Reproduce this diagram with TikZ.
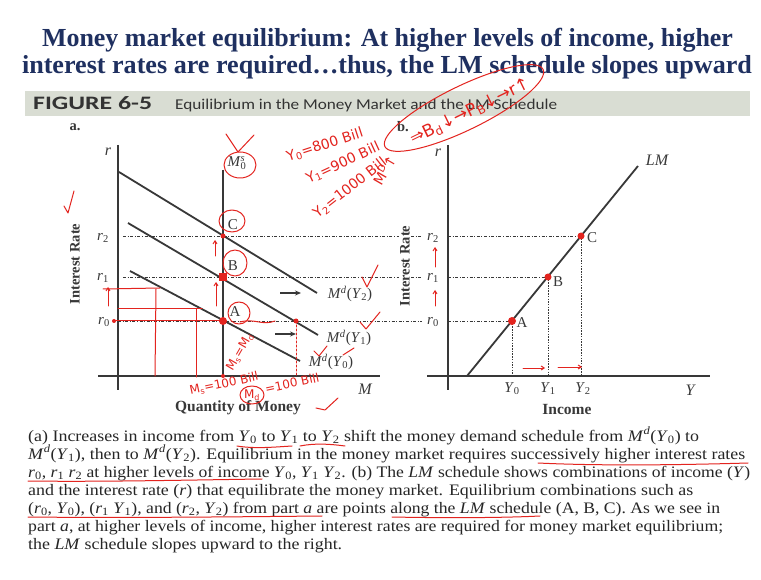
\documentclass[tikz,border=0pt]{standalone}
\usepackage{fontspec}
\setmainfont{Liberation Serif}
\newfontfamily\carl{Carlito}
\newfontfamily\djs{DejaVu Sans}
\usetikzlibrary{arrows.meta}
\definecolor{navy}{HTML}{1F3060}
\definecolor{barc}{HTML}{D9DDD3}
\definecolor{ink}{HTML}{383838}
\definecolor{pen}{HTML}{E3241F}
\newcommand\fitto[2]{\setbox0\hbox{#2}\pgfmathsetmacro\fitfac{#1/\the\wd0}\scalebox{\fitfac}[1]{\box0}}
\newcommand\Md[1]{\textit{M}\textsuperscript{\textit{d}}(\textit{Y}\textsubscript{#1})}
\newcommand\Ys[1]{\textit{Y}\textsubscript{#1}}
\newcommand\rs[1]{\textit{r}\textsubscript{#1}}
\begin{document}
\begin{tikzpicture}[x=1pt,y=-1pt,
 ax/.style={draw=ink, line width=1.3pt},
 curve/.style={draw=ink, line width=1.8pt},
 lvl/.style={draw=ink, line width=0.8pt, dash pattern=on 3pt off 1.6pt on 1pt off 1.6pt},
 drop/.style={draw=ink, line width=0.8pt, dash pattern=on 1.5pt off 1.2pt},
 lab/.style={inner sep=0pt, font=\fontsize{15}{16}\selectfont, text=ink},
 axt/.style={inner sep=0pt, font=\bfseries\fontsize{14.5}{16}\selectfont, text=ink},
 ttl/.style={inner sep=0pt, anchor=base, font=\bfseries\fontsize{26}{28}\selectfont, text=navy},
 captxt/.style={inner sep=0pt, anchor=base west, font=\fontsize{16}{18}\selectfont, text=black!85},
 hand/.style={draw=pen, line width=1pt, line cap=round, line join=round},
 hw/.style={inner sep=0pt, text=pen, font=\djs\fontsize{14}{14}\selectfont},
 rdot/.style={fill=pen},
 blk/.style={-{Stealth[length=6pt,width=5pt]}, draw=ink, line width=1.2pt},
 rarr/.style={hand, -{Straight Barb[length=3pt,width=4pt]}},
]
\useasboundingbox (0,0) rectangle (761,580);
\fill[white] (0,0) rectangle (761,580);

% ---------- title ----------
\node[ttl] (t1) at (387.5,47) {\fitto{691}{Money market equilibrium: At higher levels of income, higher}};
\node[ttl] (t2) at (387,74) {\fitto{730}{interest rates are required…thus, the LM schedule slopes upward}};

% ---------- figure bar ----------
\node[fill=barc, minimum width=725, minimum height=25, anchor=north west, inner sep=0pt] (bar) at (25,91) {};
\node[inner sep=0pt, anchor=base west, font=\carl\bfseries\fontsize{19}{20}\selectfont, text=black!80] (fig) at (33,110) {\fitto{119}{FIGURE 6-5}};
\node[inner sep=0pt, anchor=base west, font=\carl\fontsize{15}{16}\selectfont, text=black!80] (figt) at (175,110) {\fitto{382}{Equilibrium in the Money Market and the LM Schedule}};

% ---------- panel a ----------
\node[axt] (pa) at (75,127) {a.};
\node[axt, rotate=90] (ira) at (75,264) {Interest Rate};
\coordinate (aTop) at (118,145); \coordinate (aBot) at (118,390);
\coordinate (aL) at (98,376); \coordinate (aR) at (380,376);
\draw[ax] (aTop) -- (aBot);
\draw[ax] (aL) -- (aR);
\node[lab, font=\itshape\fontsize{16}{16}\selectfont] (ra) at (108,152) {r};
\node[lab, font=\itshape\fontsize{16}{16}\selectfont] (Ma) at (365,389) {M};
\node[axt, font=\bfseries\fontsize{15.5}{16}\selectfont] (qm) at (238,408) {Quantity of Money};

\coordinate (C) at (223,236); \coordinate (B) at (223,277); \coordinate (A) at (223,321);
\coordinate (msT) at (223,170); \coordinate (msB) at (223,376);
\draw[ax] (msT) -- (msB);
\node[lab] (ms) at (237,163) {\textit{M}\rlap{\textsuperscript{\textit{s}}}\textsubscript{0}};

\draw[lvl] (123,236) -- (422,236);
\draw[lvl] (123,277) -- (422,277);
\draw[lvl] (118,321) -- (422,321);
\node[lab] (r2a) at (103,238) {\rs{2}};
\node[lab] (r1a) at (103,278) {\rs{1}};
\node[lab] (r0a) at (104,322) {\rs{0}};

\coordinate (d2s) at (119,172); \coordinate (d2e) at (317,293);
\coordinate (d1s) at (128,223); \coordinate (d1e) at (318,335);
\coordinate (d0s) at (130,271); \coordinate (d0e) at (300,361);
\draw[curve] (d2s) -- (d2e);
\draw[curve] (d1s) -- (d1e);
\draw[curve] (d0s) -- (d0e);
\node[lab] (l2) at (350,294) {\Md{2}};
\node[lab] (l1) at (349,338) {\Md{1}};
\node[lab] (l0) at (331,362) {\Md{0}};
\coordinate (a2s) at (280,293); \coordinate (a2e) at (301,293);
\coordinate (a1s) at (275,334); \coordinate (a1e) at (296,334);
\draw[blk] (a2s) -- (a2e);
\draw[blk] (a1s) -- (a1e);
\node[lab] (Cl) at (233,225) {C};
\node[lab] (Bl) at (233,266) {B};
\node[lab] (Al) at (235,312) {A};

% ---------- panel b ----------
\node[axt] (pb) at (403,127) {b.};
\node[axt, rotate=90, fill=white, inner sep=1pt] (irb) at (405,266) {Interest Rate};
\coordinate (bTop) at (448,145); \coordinate (bBot) at (448,390);
\coordinate (bL) at (427,376); \coordinate (bR) at (710,376);
\draw[ax] (bTop) -- (bBot);
\draw[ax] (bL) -- (bR);
\node[lab, font=\itshape\fontsize{16}{16}\selectfont] (rb) at (438,153) {r};
\node[lab, font=\itshape\fontsize{16}{16}\selectfont] (Yb) at (690,390) {Y};
\node[axt, font=\bfseries\fontsize{15.5}{16}\selectfont] (inc) at (567,409) {Income};
\coordinate (lmS) at (467,376); \coordinate (lmE) at (638,166);
\draw[curve] (lmS) -- (lmE);
\node[lab, font=\itshape\fontsize{16}{16}\selectfont] (LM) at (657,160) {LM};
\coordinate (bA) at (512,321); \coordinate (bB) at (548,277); \coordinate (bC) at (581,236);
\coordinate (bA0) at (512,376); \coordinate (bB0) at (548,376); \coordinate (bC0) at (581,376);
\draw[lvl] (448,236) -- (bC);
\draw[lvl] (448,277) -- (bB);
\draw[lvl] (448,321) -- (bA);
\draw[drop] (bA) -- (bA0);
\draw[drop] (bB) -- (bB0);
\draw[drop] (bC) -- (bC0);
\node[lab] (r2b) at (433,238) {\rs{2}};
\node[lab] (r1b) at (433,278) {\rs{1}};
\node[lab] (r0b) at (433,322) {\rs{0}};
\node[lab] (Y0b) at (512,389) {\Ys{0}};
\node[lab] (Y1b) at (548,389) {\Ys{1}};
\node[lab] (Y2b) at (583,389) {\Ys{2}};
\node[lab] (Cb) at (592,238) {C};
\node[lab] (Bb) at (558,282) {B};
\node[lab] (Ab) at (522,323) {A};

% ---------- caption ----------
\node[captxt] (c1) at (28,441) {\fitto{671}{(a) Increases in income from \Ys{0} to \Ys{1} to \Ys{2} shift the money demand schedule from \Md{0} to}};
\node[captxt] (c2) at (28,459) {\fitto{717}{\Md{1}, then to \Md{2}. Equilibrium in the money market requires successively higher interest rates}};
\node[captxt] (c3) at (28,477) {\fitto{722}{\rs{0}, \rs{1} \rs{2} at higher levels of income \Ys{0}, \Ys{1} \Ys{2}. (b) The \textit{LM} schedule shows combinations of income (\textit{Y})}};
\node[captxt] (c4) at (28,495) {\fitto{665}{and the interest rate (\textit{r}) that equilibrate the money market. Equilibrium combinations such as}};
\node[captxt] (c5) at (28,513) {\fitto{692}{(\rs{0}, \Ys{0}), (\rs{1} \Ys{1}), and (\rs{2}, \Ys{2}) from part \textit{a} are points along the \textit{LM} schedule (A, B, C). As we see in}};
\node[captxt] (c6) at (28,531) {\fitto{695}{part \textit{a}, at higher levels of income, higher interest rates are required for money market equilibrium;}};
\node[captxt] (c7) at (28,549) {\fitto{314}{the \textit{LM} schedule slopes upward to the right.}};

% ---------- red handwriting ----------
\draw[hand, rotate around={26:(464,108)}] (464,108) ellipse [x radius=88, y radius=22];
\node[hw, rotate=26, font=\djs\fontsize{17}{17}\selectfont] (chain) at (470,112) {⇒B\textsubscript{d}↓→P\textsubscript{B}↓→r↑};
\node[hw, rotate=18] (h0) at (325,145) {Y\textsubscript{0}=800 Bill};
\node[hw, rotate=25] (h1) at (343,163) {Y\textsubscript{1}=900 Bill};
\node[hw, rotate=38] (h2) at (350,188) {Y\textsubscript{2}=1000 Bill};
\node[hw, rotate=60] (hmd) at (384,170) {M\textsuperscript{D}↑};
\draw[hand] (64,206) -- (68,213) -- (74,191);
\draw[hand] (226,134) -- (238,152) -- (254,135);
\draw[hand] (362,277) -- (367,287) -- (378,265);
\draw[hand] (360,322) -- (366,329) -- (380,312);
\draw[hand] (314,351) -- (319,356) -- (327,346);
\draw[hand] (343,355) -- (354,348);
\draw[hand] (316,408) -- (325,410) -- (338,398);
\draw[hand] (240,165) ellipse [x radius=16, y radius=13];
\draw[hand] (232,221) ellipse [x radius=13, y radius=11];
\draw[hand] (235,263) ellipse [x radius=12, y radius=13];
\draw[hand] (239,313) ellipse [x radius=11, y radius=11];
\draw[hand] (103,289) -- (160,288);
\draw[hand] (156,289) -- (155,376);
\draw[hand] (118,309) -- (202,309);
\draw[hand] (196,309) -- (196,377);
\draw[hand] (114,321) -- (A);
\draw[hand] (240,322) .. controls (255,318) and (262,326) .. (275,321);
\draw[hand, dash pattern=on 2pt off 2pt] (296,321) -- (296,376);
\draw[rarr] (108,306) -- (108,287);
\draw[rarr] (216,306) -- (216,282);
\draw[rarr] (215,256) -- (215,240);
\fill[rdot] (A) circle [radius=4];
\fill[rdot] (B) ++(-4,-4) rectangle ++(8,8);
\fill[rdot] (C) circle [radius=2.5];
\fill[rdot] (msB) circle [radius=2];
\fill[rdot] (296,321) circle [radius=2.5];
\fill[rdot] (114,321) circle [radius=2];
\node[hw, rotate=60, font=\djs\fontsize{12}{12}\selectfont] (msmd) at (240,352) {M\textsubscript{s}=M\textsubscript{d}};
\node[hw, rotate=12, font=\djs\fontsize{12}{12}\selectfont] (ms100) at (224,384) {M\textsubscript{s}=100 Bill};
\node[hw, font=\djs\fontsize{12}{12}\selectfont] (md) at (252,395) {M\textsubscript{d}};
\draw[hand] (252,395) ellipse [x radius=12, y radius=9];
\node[hw, rotate=12, font=\djs\fontsize{12}{12}\selectfont] (md100) at (292,383) {=100 Bill};
\draw[rarr] (435,267) -- (435,247);
\draw[rarr] (435,306) -- (435,290);
\draw[rarr] (523,368) -- (545,368);
\draw[rarr] (558,367) -- (582,367);
\fill[rdot] (bA) circle [radius=4];
\fill[rdot] (bB) circle [radius=3.5];
\fill[rdot] (bC) circle [radius=3.5];
\draw[hand] (237,446) .. controls (255,449) and (275,447) .. (292,446);
\draw[hand] (300,446) .. controls (315,443) and (330,444) .. (345,446);
\draw[hand] (538,463) .. controls (600,466) and (680,465) .. (748,463);
\draw[hand] (28,481) .. controls (100,482) and (190,480) .. (262,479);
\draw[hand] (28,517) .. controls (120,518) and (220,517) .. (322,516);
\draw[hand] (392,517) .. controls (440,518) and (500,518) .. (540,516);
\end{tikzpicture}
\end{document}
